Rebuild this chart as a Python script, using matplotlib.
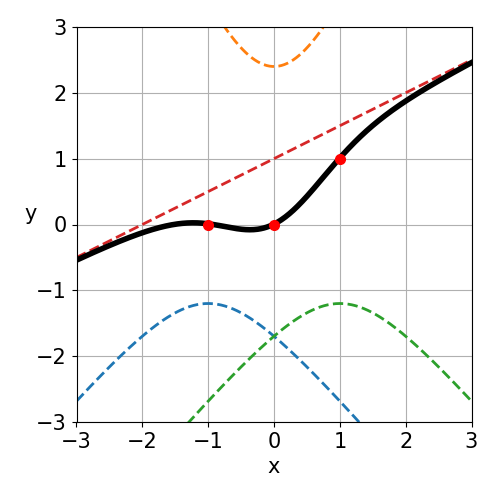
import numpy as np
import matplotlib
matplotlib.use("Agg")
import matplotlib.pyplot as plt

# data points
node_x = [-1, 0, 1]
node_y = [0, 0, 1]

# multiquadric basis weights, shape parameter, linear part
weights = [-1.2, 2.4, -1.2]
eps = 1.0
slope = 0.5
intercept = 1.0

basis_colors = ["tab:blue", "tab:orange", "tab:green"]

x = np.linspace(-3, 3, 400)
linear = slope * x + intercept
parts = [w * np.sqrt((x - c) ** 2 + eps ** 2) for w, c in zip(weights, node_x)]
total = linear + sum(parts)

plt.rcParams["font.size"] = 15
fig = plt.figure(figsize=(5, 5), dpi=100)
ax = fig.add_axes([0.153, 0.156, 0.79, 0.79])

for p, col in zip(parts, basis_colors):
    ax.plot(x, p, "--", color=col, lw=2)
ax.plot(x, linear, "--", color="tab:red", lw=2)
ax.plot(x, total, color="black", lw=4)
ax.plot(node_x, node_y, "o", color="red", markersize=7, zorder=5)

ax.set_xlim(-3, 3)
ax.set_ylim(-3, 3)
ax.set_xticks(range(-3, 4))
ax.set_yticks(range(-3, 4))
ax.grid(True)
ax.set_xlabel("x")
ax.set_ylabel("y", rotation=0)

fig.savefig("out.png")
